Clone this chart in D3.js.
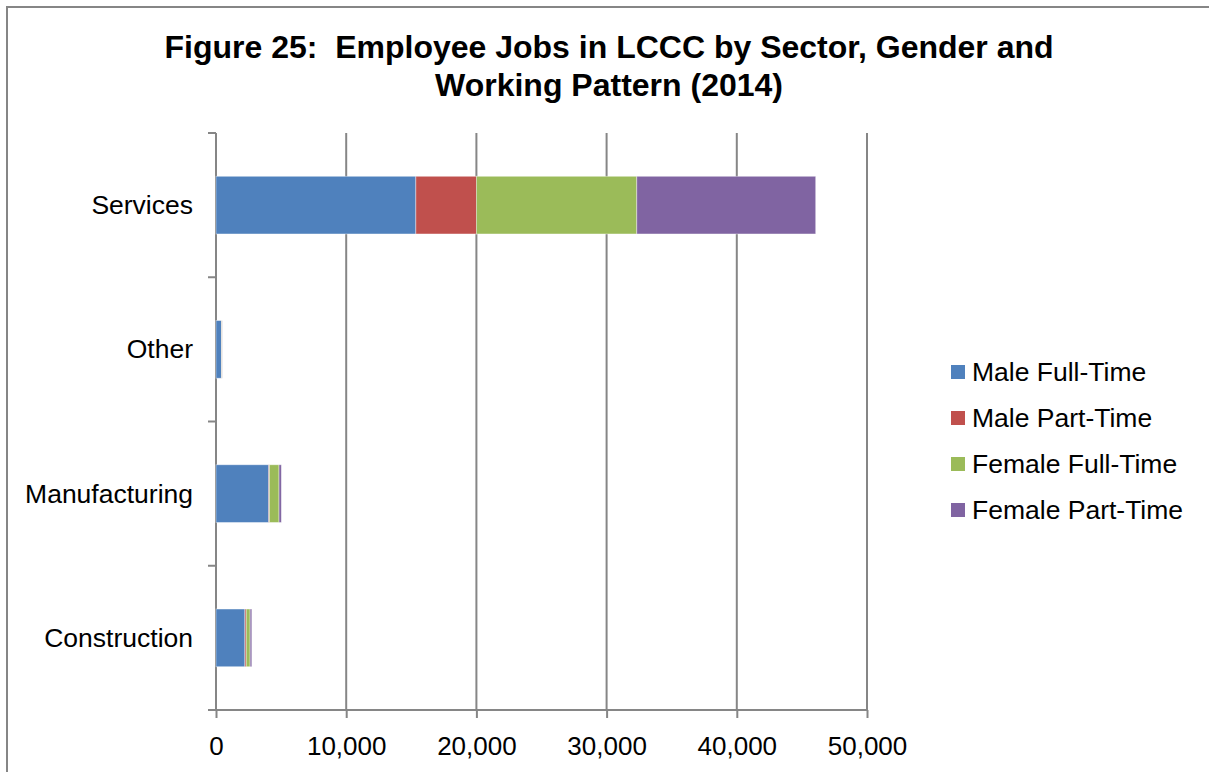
<!DOCTYPE html>
<html>
<head>
<meta charset="utf-8">
<script src="https://cdn.jsdelivr.net/npm/d3@7"></script>
<style>
  body { margin: 0; background: #fff; }
  svg { display: block; font-family: "Liberation Sans", Arial, sans-serif; }
</style>
</head>
<body>
<svg width="1209" height="772"></svg>
<script>
const sectors = ['Services', 'Other', 'Manufacturing', 'Construction']
const seriesNames = ['Male Full-Time', 'Male Part-Time', 'Female Full-Time', 'Female Part-Time']
const maleFullTime = [15350, 430, 4050, 2220]
const malePartTime = [4650, 20, 50, 100]
const femaleFullTime = [12320, 20, 740, 300]
const femalePartTime = [13740, 10, 180, 130]
const xTicks = [0, 10000, 20000, 30000, 40000, 50000]
const colors = ['#4F81BD', '#C0504D', '#9BBB59', '#8064A2']

const svg = d3.select('svg')

// chart border (only left and top visible in the original)
svg.append('rect')
  .attr('x', 7).attr('y', 7)
  .attr('width', 1240).attr('height', 800)
  .attr('fill', 'none')
  .attr('stroke', '#868686')
  .attr('stroke-width', 2)

const plot = { left: 216, right: 867, top: 133, bottom: 710 }

const rows = sectors.map((s, i) => ({
  sector: s,
  'Male Full-Time': maleFullTime[i],
  'Male Part-Time': malePartTime[i],
  'Female Full-Time': femaleFullTime[i],
  'Female Part-Time': femalePartTime[i]
}))

const stacked = d3.stack().keys(seriesNames)(rows)

const xScale = d3.scaleLinear()
  .domain([0, 50000])
  .range([plot.left, plot.right])

const yScale = d3.scaleBand()
  .domain(sectors)
  .range([plot.top, plot.bottom])
  .paddingInner(0.6)
  .paddingOuter(0.3)

const color = d3.scaleOrdinal().domain(seriesNames).range(colors)

// gridlines
svg.append('g')
  .selectAll('line')
  .data(xTicks.slice(1))
  .join('line')
  .attr('x1', d => xScale(d)).attr('x2', d => xScale(d))
  .attr('y1', plot.top).attr('y2', plot.bottom)
  .attr('stroke', '#868686')
  .attr('stroke-width', 2)

// bottom axis
const xAxis = d3.axisBottom(xScale)
  .tickValues(xTicks)
  .tickFormat(d3.format(','))
  .tickSize(8)
  .tickSizeOuter(0)
  .tickPadding(19)

const gx = svg.append('g')
  .attr('transform', `translate(0,${plot.bottom})`)
  .call(xAxis)
gx.select('.domain').attr('stroke', '#868686').attr('stroke-width', 2)
  .attr('d', `M${plot.left - 8},0H${plot.right}`)
gx.selectAll('.tick line').attr('stroke', '#868686').attr('stroke-width', 2)
gx.selectAll('.tick text')
  .attr('fill', '#000')
  .style('font-size', '26px')
  .style('font-family', '"Liberation Sans", Arial, sans-serif')

// left axis: line + ticks at category boundaries
const step = yScale.step()
const bounds = d3.range(sectors.length + 1).map(i => plot.top + i * step)
const gy = svg.append('g')
gy.append('line')
  .attr('x1', plot.left).attr('x2', plot.left)
  .attr('y1', plot.top).attr('y2', plot.bottom)
  .attr('stroke', '#868686').attr('stroke-width', 2)
gy.selectAll('line.tk')
  .data(bounds)
  .join('line')
  .attr('class', 'tk')
  .attr('x1', plot.left - 8).attr('x2', plot.left)
  .attr('y1', d => d).attr('y2', d => d)
  .attr('stroke', '#868686').attr('stroke-width', 2)
gy.selectAll('text')
  .data(sectors)
  .join('text')
  .attr('x', 193)
  .attr('y', d => yScale(d) + yScale.bandwidth() / 2)
  .attr('text-anchor', 'end')
  .attr('dominant-baseline', 'central')
  .style('font-size', '26.5px')
  .text(d => d)

// bars
svg.append('g')
  .selectAll('g')
  .data(stacked)
  .join('g')
  .attr('fill', d => color(d.key))
  .selectAll('rect')
  .data(d => d)
  .join('rect')
  .attr('x', d => xScale(d[0]))
  .attr('y', d => yScale(d.data.sector))
  .attr('width', d => xScale(d[1]) - xScale(d[0]))
  .attr('height', yScale.bandwidth())
  .attr('stroke', '#fff')
  .attr('stroke-opacity', 0.5)
  .attr('stroke-width', 0.8)

// legend
const legend = svg.append('g')
  .selectAll('g')
  .data(seriesNames)
  .join('g')
  .attr('transform', (d, i) => `translate(951,${372 + i * 46})`)
legend.append('rect')
  .attr('x', 0).attr('y', -7)
  .attr('width', 14).attr('height', 14)
  .attr('fill', d => color(d))
legend.append('text')
  .attr('x', 21).attr('y', 0)
  .attr('dominant-baseline', 'central')
  .style('font-size', '26.5px')
  .text(d => d)

// title
const title = svg.append('text')
  .attr('text-anchor', 'middle')
  .style('font-size', '32px')
  .style('font-weight', 'bold')
  .style('white-space', 'pre')
title.append('tspan').attr('x', 609).attr('y', 58)
  .text('Figure 25:  Employee Jobs in LCCC by Sector, Gender and')
title.append('tspan').attr('x', 609).attr('y', 96)
  .text('Working Pattern (2014)')
</script>
</body>
</html>
